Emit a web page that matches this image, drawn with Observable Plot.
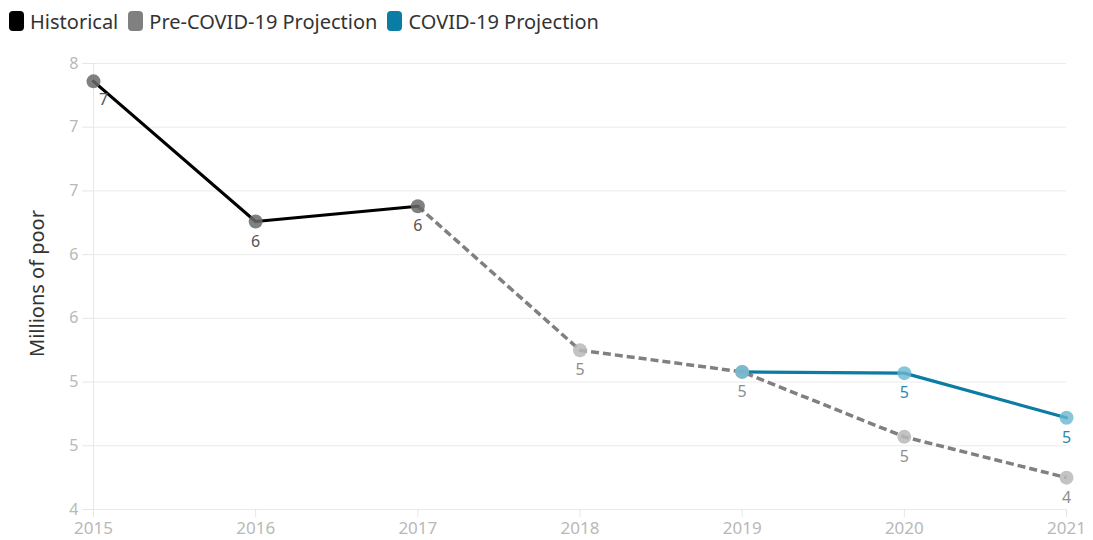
<!DOCTYPE html>
<html>
<head>
<meta charset="utf-8">
<script src="https://cdn.jsdelivr.net/npm/d3@7"></script>
<script src="https://cdn.jsdelivr.net/npm/@observablehq/plot@0.6"></script>
<style>
  body { margin: 0; background: #fff; font-family: "Noto Sans", sans-serif; }
  #legend { height: 42px; display: flex; align-items: center; padding-left: 9px; box-sizing: border-box; }
  .item { display: flex; align-items: center; margin-right: 10px; font-size: 20px; color: #333; }
  .sw { width: 15px; height: 20px; border-radius: 4px; margin-right: 6px; }
</style>
</head>
<body>
<div id="legend"></div>
<div id="chart"></div>
<script>
const years = [2015, 2016, 2017, 2018, 2019, 2020, 2021];
const yTicks = [4, 4.5, 5, 5.5, 6, 6.5, 7, 7.5];

const histYears = [2015, 2016, 2017];
const histValues = [7.36, 6.26, 6.38];

const preYears = [2017, 2018, 2019, 2020, 2021];
const preValues = [6.38, 5.25, 5.08, 4.57, 4.25];

const covidYears = [2019, 2020, 2021];
const covidValues = [5.08, 5.07, 4.72];

const seriesNames = ["Historical", "Pre-COVID-19 Projection", "COVID-19 Projection"];
const seriesColors = ["#000000", "#808080", "#0b7ca3"];

const hist = histYears.map((year, i) => ({year, value: histValues[i]}));
const pre = preYears.map((year, i) => ({year, value: preValues[i]}));
const covid = covidYears.map((year, i) => ({year, value: covidValues[i]}));

const preOnly = pre.filter(d => !histYears.includes(d.year));
const covidOnly = covid.filter(d => {
  const j = preYears.indexOf(d.year);
  return j < 0 || preValues[j] !== d.value;
});

// legend
const legend = document.getElementById("legend");
seriesNames.forEach((name, i) => {
  const it = document.createElement("div");
  it.className = "item";
  const sw = document.createElement("div");
  sw.className = "sw";
  sw.style.background = seriesColors[i];
  it.appendChild(sw);
  it.appendChild(document.createTextNode(name));
  legend.appendChild(it);
});

const fmt = d => Math.round(d);

const chart = Plot.plot({
  width: 1093,
  height: 498,
  marginLeft: 93,
  marginRight: 27,
  marginTop: 21,
  marginBottom: 31,
  style: {fontFamily: "'Noto Sans', sans-serif", background: "#fff"},
  x: {domain: [2015, 2021]},
  y: {domain: [4, 7.5]},
  marks: [
    Plot.gridY(yTicks, {stroke: "#ebebeb", strokeOpacity: 1}),
    Plot.ruleX([2015], {stroke: "#e6e6e6"}),
    Plot.axisY({ticks: yTicks, tickSize: 11, tickPadding: 4, tickFormat: fmt, stroke: "#e6e6e6", fill: "#b8b8b8", fontSize: 16, label: null}),
    Plot.axisX({ticks: years, tickSize: 8, tickPadding: 4, tickFormat: d => String(d), stroke: "#e6e6e6", fill: "#b8b8b8", fontSize: 17, label: null}),
    Plot.line(pre, {x: "year", y: "value", stroke: seriesColors[1], strokeWidth: 3.5, strokeDasharray: "8,4", strokeLinecap: "butt"}),
    Plot.line(hist, {x: "year", y: "value", stroke: seriesColors[0], strokeWidth: 3.2}),
    Plot.line(covid, {x: "year", y: "value", stroke: seriesColors[2], strokeWidth: 3.2}),
    Plot.dot(preOnly, {x: "year", y: "value", r: 7, fill: "#b9b9b9", fillOpacity: 0.85}),
    Plot.dot(hist, {x: "year", y: "value", r: 7, fill: "#6a6a6a", fillOpacity: 0.85}),
    Plot.dot(covid, {x: "year", y: "value", r: 7, fill: "#6cb6cf", fillOpacity: 0.8}),
    Plot.text(hist.slice(0, 1), {x: "year", y: "value", text: d => fmt(d.value), dx: 10, dy: 19, fontSize: 16, fill: "#555"}),
    Plot.text(hist.slice(1), {x: "year", y: "value", text: d => fmt(d.value), dy: 20, fontSize: 16, fill: "#555"}),
    Plot.text(preOnly, {x: "year", y: "value", text: d => fmt(d.value), dy: 20, fontSize: 16, fill: "#8e8e8e"}),
    Plot.text(covidOnly, {x: "year", y: "value", text: d => fmt(d.value), dy: 20, fontSize: 16, fill: "#2f86ad"}),
    Plot.text(["Millions of poor"], {frameAnchor: "left", textAnchor: "middle", rotate: -90, dx: -56, dy: -3, fontSize: 20, fill: "#333"})
  ]
});
document.getElementById("chart").appendChild(chart);
</script>
</body>
</html>
